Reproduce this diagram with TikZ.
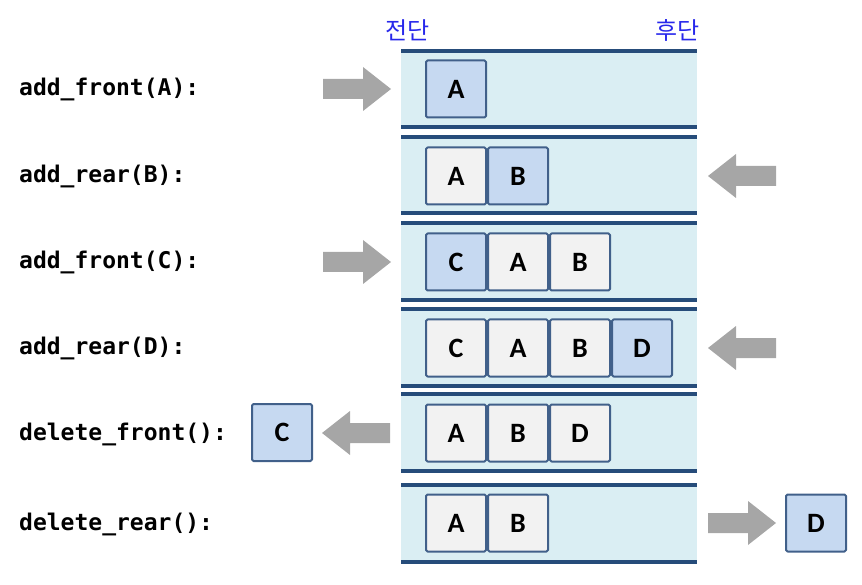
\documentclass[tikz,border=0pt]{standalone}
\usepackage{fontspec}
\newfontfamily\codefont{DejaVu Sans Mono}
\newfontfamily\cellfont{Carlito}
\newfontfamily\krfont{Noto Sans CJK KR}
\usetikzlibrary{calc}
\definecolor{bandfill}{RGB}{218,238,243}
\definecolor{bandline}{RGB}{38,76,122}
\definecolor{cellline}{RGB}{65,96,138}
\definecolor{cellnew}{RGB}{198,217,241}
\definecolor{cellold}{RGB}{242,242,242}
\definecolor{arrowgray}{RGB}{166,166,166}
\definecolor{labelblue}{RGB}{40,40,235}

\begin{document}
\begin{tikzpicture}[x=1pt,y=-1pt,line join=round,
    cell/.style={draw=cellline,line width=2pt,rounded corners=1.5pt,minimum width=60pt,minimum height=57pt,inner sep=0pt,font=\cellfont\bfseries\fontsize{28}{28}\selectfont},
    old/.style={cell,fill=cellold},
    new/.style={cell,fill=cellnew},
    op/.style={anchor=west,inner sep=0pt,font=\codefont\bfseries\fontsize{23}{23}\selectfont},
    end/.style={inner sep=0pt,text=labelblue,font=\krfont\fontsize{24}{24}\selectfont},
    blockarrow/.pic={\fill[arrowgray] (-34,-10) -- (6,-10) -- (6,-22) -- (34,0) -- (6,22) -- (6,10) -- (-34,10) -- cycle;}]
                \useasboundingbox (0,0) rectangle (862,585);
                \foreach \t/\b in {51/127,137/213,223/300,309/386,394/471,485/562}{
                    \fill [bandfill] (401,\t) rectangle (697,\b);
                    \draw [bandline,line width=3.5pt] (401,\t) -- (697,\t) (401,\b) -- (697,\b);
                }
                \node[end,anchor=west] (front) at (385,30) {전단};
                \node[end,anchor=east] (rear) at (700,30) {후단};
                \node[op] (op1) at (19,89) {add\_front(A):};
                \node[op] (op2) at (19,176) {add\_rear(B):};
                \node[op] (op3) at (19,262) {add\_front(C):};
                \node[op] (op4) at (19,348) {add\_rear(D):};
                \node[op] (op5) at (19,434) {delete\_front():};
                \node[op] (op6) at (19,524) {delete\_rear():};
                \node[new] (r1a) at (456,89) {A};
                \node[old] (r2a) at (456,176) {A};
                \node[new] (r2b) at (518,176) {B};
                \node[new] (r3c) at (456,262) {C};
                \node[old] (r3a) at (518,262) {A};
                \node[old] (r3b) at (580,262) {B};
                \node[old] (r4c) at (456,348) {C};
                \node[old] (r4a) at (518,348) {A};
                \node[old] (r4b) at (580,348) {B};
                \node[new] (r4d) at (642,348) {D};
                \node[old] (r5a) at (456,433) {A};
                \node[old] (r5b) at (518,433) {B};
                \node[old] (r5d) at (580,433) {D};
                \node[old] (r6a) at (456,523) {A};
                \node[old] (r6b) at (518,523) {B};
                \node[new] (outc) at (282,432.5) {C};
                \node[new] (outd) at (816,523) {D};
                \pic at (357,89) {blockarrow};
                \pic[rotate=180] at (742,176) {blockarrow};
                \pic at (357,262) {blockarrow};
                \pic[rotate=180] at (742,348) {blockarrow};
                \pic[rotate=180] at (356,433) {blockarrow};
                \pic at (742,523) {blockarrow};
\end{tikzpicture}
\end{document}
